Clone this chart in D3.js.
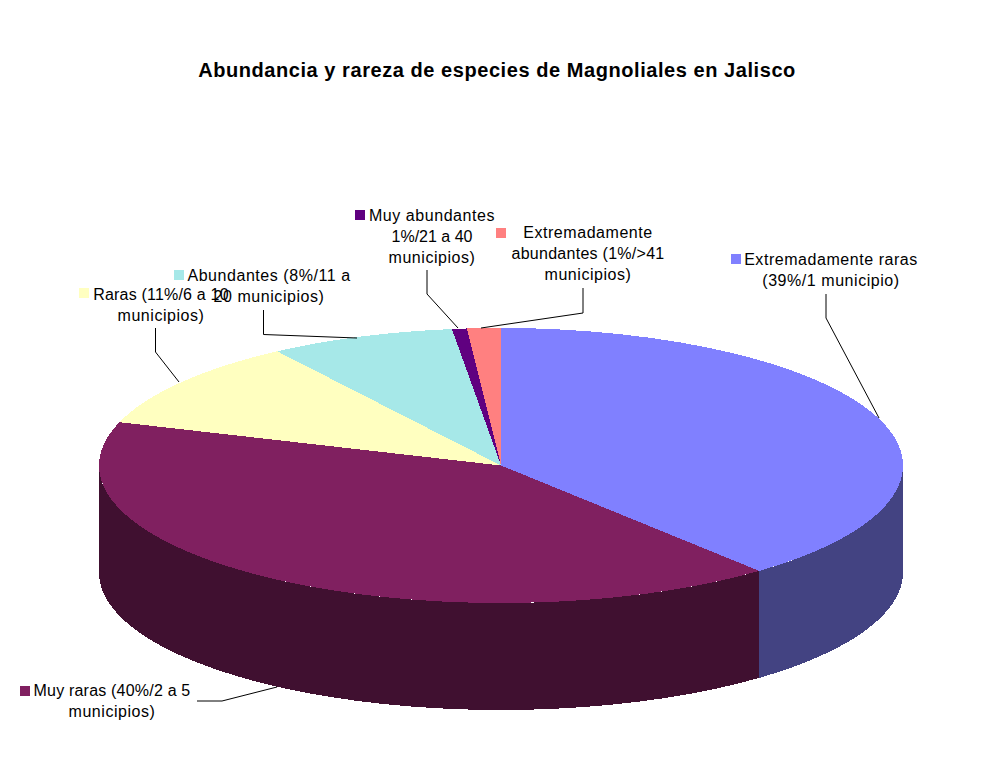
<!DOCTYPE html>
<html>
<head>
<meta charset="utf-8">
<title>Abundancia y rareza</title>
<script src="https://cdn.jsdelivr.net/npm/d3@7"></script>
<style>
  html, body { margin: 0; padding: 0; background: #fff; }
  text { font-family: "Liberation Sans", Arial, sans-serif; fill: #000; }
</style>
</head>
<body>
<div id="chart"></div>
<script>
var svgWidth = 1003;
var svgHeight = 767;

var title = "Abundancia y rareza de especies de Magnoliales en Jalisco";

// slices clockwise from 12 o'clock, shares
var categories = ["Extremadamente raras", "Muy raras", "Raras", "Abundantes", "Muy abundantes", "Extremadamente abundantes"];
var shares = [38.9, 41.2, 10.5, 7.45, 0.6, 1.35];
var topColors = ["#8080ff", "#802060", "#ffffc0", "#a6e8e8", "#600080", "#ff8080"];
var sideColors = ["#434382", "#401030", "#80805f", "#537474", "#300040", "#804040"];

var labelLines = [
  ["Extremadamente raras", "(39%/1 municipio)"],
  ["Muy raras (40%/2 a 5", "municipios)"],
  ["Raras (11%/6 a 10", "municipios)"],
  ["Abundantes (8%/11 a", "20 municipios)"],
  ["Muy abundantes", "1%/21 a 40", "municipios)"],
  ["Extremadamente", "abundantes (1%/>41", "municipios)"]
];

// label placement: text centre x, first line y, swatch left/top, letter spacing per line
var labelPos = [
  {cx: 831, y: 259, sx: 731, sy: 254, ls: [0.55, 0.55]},
  {cx: 112, y: 690, sx: 20, sy: 686, ls: [0.2, 0.55]},
  {cx: 161, y: 294, sx: 79, sy: 288, ls: [0.2, 0.55]},
  {cx: 269, y: 275, sx: 174, sy: 270, ls: [0.55, 0.55]},
  {cx: 432, y: 215, sx: 355, sy: 210, ls: [0.55, 0, 0.55]},
  {cx: 588, y: 232, sx: 496, sy: 228, ls: [0.55, 0.27, 0.55]}
];

var leaders = [
  [[826, 294], [826, 318], [879, 418]],
  [[197, 701], [222, 701], [277, 687]],
  [[155.5, 328], [155.5, 352], [179, 382]],
  [[263.5, 310], [263.5, 334.5], [357, 338]],
  [[427, 270], [427, 294], [458, 328]],
  [[583, 288], [583, 313], [481, 328]]
];

var cx = 501, cy = 465.5, rx = 402, ry = 137.5, depth = 107;
var squash = ry / rx;
var lineH = 21;

var svg = d3.select("#chart")
  .append("svg")
  .attr("width", svgWidth)
  .attr("height", svgHeight)
  .style("display", "block");

svg.append("text")
  .attr("x", 497)
  .attr("y", 77)
  .attr("text-anchor", "middle")
  .attr("font-size", 20)
  .attr("font-weight", "bold")
  .attr("letter-spacing", 0.56)
  .text(title);

var pie = d3.pie().sort(null)(shares);

// everything in this group is a circle of radius rx, squashed into an ellipse
var pieGroup = svg.append("g")
  .attr("transform", `translate(${cx}, ${cy}) scale(1, ${squash})`)
  .attr("shape-rendering", "crispEdges");

// side wall, only the front half of the pie shows it
function wallPath(d) {
  var a0 = Math.max(d.startAngle, Math.PI / 2) - Math.PI / 2;
  var a1 = Math.min(d.endAngle, 3 * Math.PI / 2) - Math.PI / 2;
  if (a1 <= a0) return null;
  var off = depth / squash;
  var p = d3.path();
  p.arc(0, 0, rx, a0, a1);
  p.lineTo(rx * Math.cos(a1), rx * Math.sin(a1) + off);
  p.arc(0, off, rx, a1, a0, true);
  p.closePath();
  return p.toString();
}

pieGroup.selectAll("path.wall")
  .data(pie)
  .enter()
  .append("path")
  .attr("class", "wall")
  .attr("d", wallPath)
  .attr("fill", (d, i) => sideColors[i]);

var arc = d3.arc().innerRadius(0).outerRadius(rx);

pieGroup.selectAll("path.slice")
  .data(pie)
  .enter()
  .append("path")
  .attr("class", "slice")
  .attr("d", arc)
  .attr("fill", (d, i) => topColors[i]);

// leader lines
var line = d3.line();
svg.selectAll("path.leader")
  .data(leaders)
  .enter()
  .append("path")
  .attr("class", "leader")
  .attr("d", line)
  .attr("fill", "none")
  .attr("stroke", "#000")
  .attr("stroke-width", 1);

// labels, Raras and Abundantes collide on purpose, the original does too
categories.forEach(function(name, i) {
  var pos = labelPos[i];
  var g = svg.append("g").attr("class", "label");
  g.append("rect")
    .attr("x", pos.sx)
    .attr("y", pos.sy)
    .attr("width", 10)
    .attr("height", 10)
    .attr("fill", topColors[i]);
  g.selectAll("text")
    .data(labelLines[i])
    .enter()
    .append("text")
    .attr("x", pos.cx)
    .attr("y", (d, j) => pos.y + j * lineH)
    .attr("dy", "0.35em")
    .attr("text-anchor", "middle")
    .attr("font-size", 16)
    .attr("letter-spacing", (d, j) => pos.ls[j])
    .text(d => d);
});
</script>
</body>
</html>
